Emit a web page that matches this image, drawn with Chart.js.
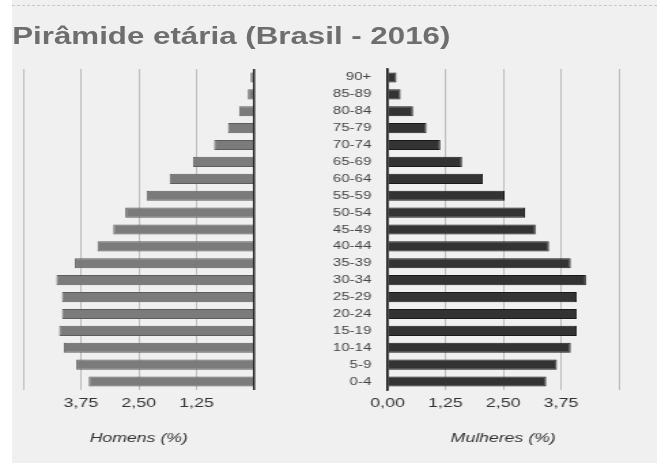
<!DOCTYPE html>
<html>
<head>
<meta charset="utf-8">
<script src="https://cdn.jsdelivr.net/npm/chart.js@4.4.1/dist/chart.umd.min.js"></script>
<style>
    body { margin: 0; background: #fff; width: 657px; height: 463px; overflow: hidden; position: relative; }
    #panel { position: absolute; left: 12px; top: 0; width: 645px; height: 463px; background: #f0f0f0; }
    #dash { position: absolute; left: 12px; top: 5px; width: 645px; border-top: 1px dashed #c8c8c8; }
    /* the reference is stretched sideways, so everything is drawn narrow and scaled */
    #wrap { position: absolute; left: 0; top: 0; width: 483px; height: 463px; transform: scaleX(1.36); transform-origin: 0 0; }
    #title { position: absolute; left: 9px; top: 25px; font: bold 23px/23px "Liberation Sans", Arial, sans-serif; color: #6e6e6e; white-space: nowrap; }
    canvas { position: absolute; top: 60px; }
</style>
</head>
<body>
<div id="panel"></div>
<div id="dash"></div>
<div id="wrap">
    <div id="title">Pirâmide etária (Brasil - 2016)</div>
    <canvas id="homens-chart" width="200" height="400" style="left:0px;width:200px;height:400px"></canvas>
    <canvas id="mulheres-chart" width="270" height="400" style="left:200px;width:270px;height:400px"></canvas>
</div>
<script>
const ageGroups = ['90+', '85-89', '80-84', '75-79', '70-74', '65-69', '60-64', '55-59', '50-54', '45-49',
    '40-44', '35-39', '30-34', '25-29', '20-24', '15-19', '10-14', '5-9', '0-4'];
const homens = [0.08, 0.14, 0.33, 0.57, 0.87, 1.33, 1.83, 2.33, 2.79, 3.05,
    3.39, 3.88, 4.28, 4.16, 4.16, 4.22, 4.12, 3.85, 3.58];
const mulheres = [0.19, 0.28, 0.55, 0.84, 1.14, 1.61, 2.06, 2.53, 2.97, 3.20,
    3.49, 3.96, 4.29, 4.09, 4.09, 4.09, 3.96, 3.66, 3.43];
const tickValues = [0, 1.25, 2.5, 3.75, 5];
const homensTickLabels = ['', '1,25', '2,50', '3,75', ''];
const mulheresTickLabels = ['0,00', '1,25', '2,50', '3,75', ''];

const fontFamily = '"Liberation Sans", Arial, sans-serif';

// x axis shared by both sides, only the labels and direction differ
function xAxis(tickLabels, title, reverse) {
    return {
        type: 'linear',
        min: 0,
        max: 5,
        reverse: reverse,
        afterBuildTicks: (scale) => {
            scale.ticks = tickValues.map(v => ({ value: v }));
        },
        afterFit: (scale) => {
            scale.height = 56;
        },
        ticks: {
            autoSkip: false,
            padding: 6,
            color: '#333',
            font: { family: fontFamily, size: 13 },
            callback: (value, i) => tickLabels[i]
        },
        grid: {
            drawTicks: false,
            color: (ctx) => ctx.tick && ctx.tick.value === 0 ? '#1e1e1e' : '#bdbdbd',
            lineWidth: (ctx) => ctx.tick && ctx.tick.value === 0 ? 1.5 : 1
        },
        border: { display: false },
        title: {
            display: true,
            text: title,
            color: '#333',
            padding: { top: 0, bottom: 0 },
            font: { family: fontFamily, size: 13, style: 'italic' }
        }
    };
}

// left side, men
const homensEl = document.getElementById('homens-chart').getContext('2d');
new Chart(homensEl, {
    type: 'bar',
    data: {
        labels: ageGroups,
        datasets: [{
            label: 'Homens (%)',
            data: homens,
            backgroundColor: '#7b7b7b',
            borderColor: '#5c5c5c',
            borderWidth: 1,
            barPercentage: 0.6,
            categoryPercentage: 1
        }]
    },
    options: {
        indexAxis: 'y',
        responsive: false,
        animation: false,
        layout: { padding: { left: 17, right: 13, top: 9, bottom: 14 } },
        plugins: { legend: { display: false }, tooltip: { enabled: false } },
        scales: {
            x: xAxis(homensTickLabels, 'Homens (%)', true),
            y: { display: false }
        }
    }
});

// right side, women, carries the age labels
// (gap to the labels comes from an invisible tick mark, ticks.padding would push the plot down)
const mulheresEl = document.getElementById('mulheres-chart').getContext('2d');
new Chart(mulheresEl, {
    type: 'bar',
    data: {
        labels: ageGroups,
        datasets: [{
            label: 'Mulheres (%)',
            data: mulheres,
            backgroundColor: '#333333',
            borderColor: '#1a1a1a',
            borderWidth: 1,
            barPercentage: 0.6,
            categoryPercentage: 1
        }]
    },
    options: {
        indexAxis: 'y',
        responsive: false,
        animation: false,
        layout: { padding: { left: 0, right: 15, top: 9, bottom: 14 } },
        plugins: { legend: { display: false }, tooltip: { enabled: false } },
        scales: {
            x: xAxis(mulheresTickLabels, 'Mulheres (%)', false),
            y: {
                afterFit: (scale) => {
                    scale.width = 85;
                },
                ticks: {
                    padding: 0,
                    color: '#444',
                    font: { family: fontFamily, size: 11 }
                },
                grid: {
                    display: true,
                    drawOnChartArea: false,
                    drawTicks: true,
                    tickLength: 12,
                    color: 'rgba(0,0,0,0)'
                },
                border: { display: true, color: '#1e1e1e', width: 1.5 }
            }
        }
    }
});
</script>
</body>
</html>
